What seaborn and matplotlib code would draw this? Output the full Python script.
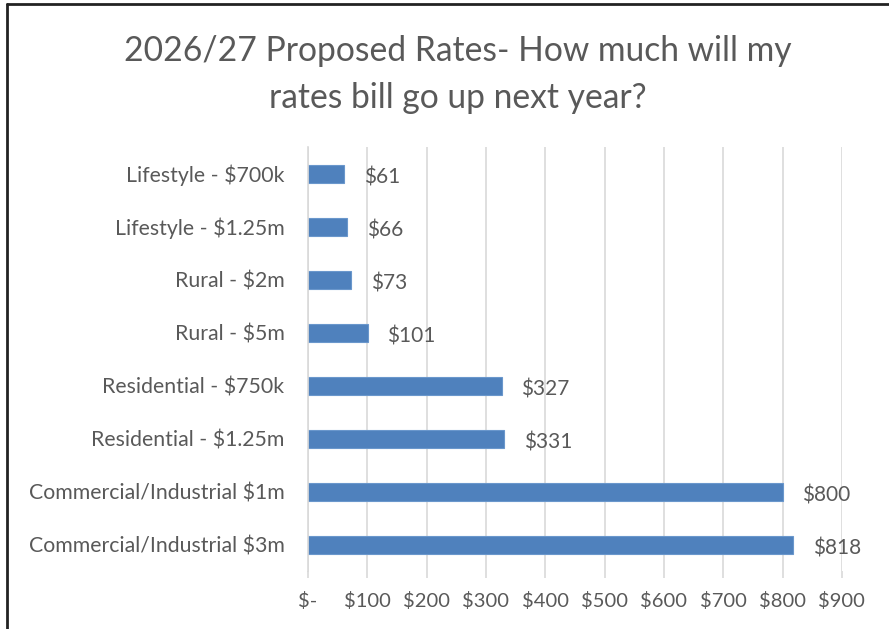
import seaborn as sns
import pandas as pd
import matplotlib
matplotlib.use('Agg')
import matplotlib.pyplot as plt
from matplotlib.lines import Line2D

categories = ['Lifestyle - $700k', 'Lifestyle - $1.25m', 'Rural - $2m', 'Rural - $5m',
              'Residential - $750k', 'Residential - $1.25m',
              'Commercial/Industrial $1m', 'Commercial/Industrial $3m']
increase = [61, 66, 73, 101, 327, 331, 800, 818]
x_ticks = [0, 100, 200, 300, 400, 500, 600, 700, 800, 900]
x_ticklabels = ['$-', '$100', '$200', '$300', '$400', '$500', '$600', '$700', '$800', '$900']
title = '2026/27 Proposed Rates- How much will my\nrates bill go up next year?'

df = pd.DataFrame({'category': categories, 'increase': increase})

sns.set_style('white')
plt.rcParams['font.family'] = ['Lato', 'DejaVu Sans']
txt = '#595959'
grid = '#D9D9D9'

fig = plt.figure(figsize=(8.89, 6.29), dpi=100)
ax = fig.add_axes([0.3465, 0.092, 0.6005, 0.674])

sns.barplot(data=df, x='increase', y='category', orient='h', ax=ax,
            color='#4F81BD', edgecolor='#6A97CC', linewidth=0.8, width=0.34,
            saturation=1)

ax.set_xlim(0, 900)
ax.set_ylim(7.5, -0.5)
ax.set_xticks(x_ticks)
ax.set_xticklabels(x_ticklabels)
ax.xaxis.grid(True, color=grid, linewidth=1.2)
ax.set_axisbelow(True)
ax.set_xlabel('')
ax.set_ylabel('')
for s in ['top', 'right', 'bottom']:
    ax.spines[s].set_visible(False)
ax.spines['left'].set_color(grid)
ax.spines['left'].set_linewidth(1.2)
ax.tick_params(axis='x', colors=txt, labelsize=14.5, length=5, width=1.2,
               direction='out', pad=10, bottom=True)
ax.tick_params(axis='x', which='both', color=grid)
ax.tick_params(axis='y', colors=txt, labelsize=15.3, length=0, pad=17)

anns = ax.bar_label(ax.containers[0], labels=['$%d' % v for v in increase],
                    padding=14, color=txt, fontsize=15)
for a in anns:
    a.xyann = (14, -2.5)

fig.suptitle(title, x=0.515, y=0.945, fontsize=24.2, color=txt, linespacing=1.6)

# frame of the screenshot
fig.add_artist(Line2D([0.008, 1.0], [0.993, 0.993], color='#222222', linewidth=2))
fig.add_artist(Line2D([0.008, 0.008], [0.0, 0.993], color='#222222', linewidth=2))

plt.savefig('out.png', dpi=100)
